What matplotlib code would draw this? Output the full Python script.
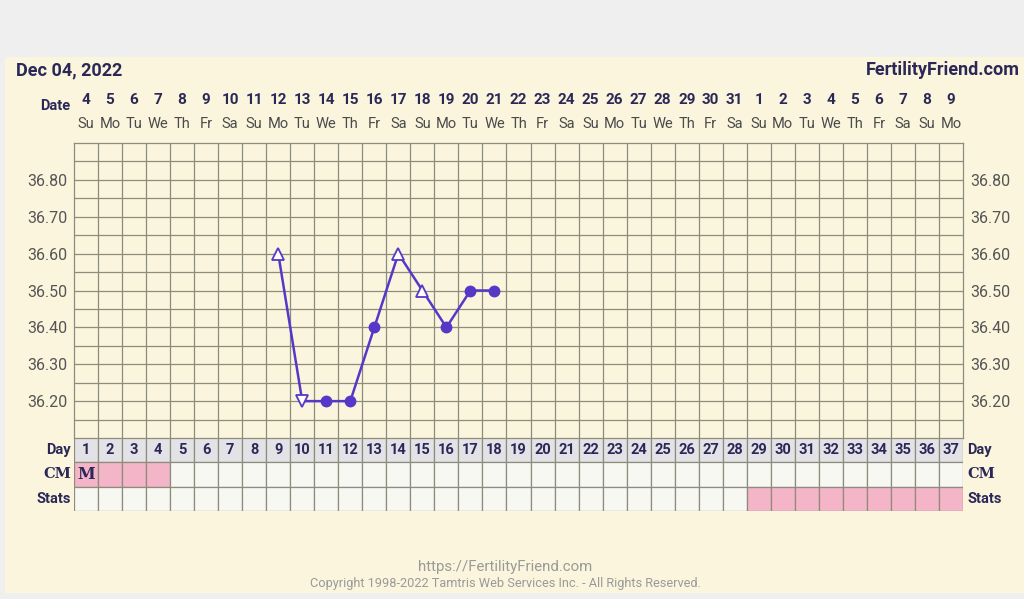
import numpy as np
import matplotlib.pyplot as plt
from matplotlib.patches import Rectangle

plt.rcParams['font.family'] = ['Roboto', 'DejaVu Sans']

# cycle days and calendar
days = list(range(1, 38))
dates = ['4', '5', '6', '7', '8', '9', '10', '11', '12', '13', '14', '15', '16',
         '17', '18', '19', '20', '21', '22', '23', '24', '25', '26', '27', '28',
         '29', '30', '31', '1', '2', '3', '4', '5', '6', '7', '8', '9']
weekdays = ['Su', 'Mo', 'Tu', 'We', 'Th', 'Fr', 'Sa'] * 5 + ['Su', 'Mo']

# temperatures
temp_days = [9, 10, 11, 12, 13, 14, 15, 16, 17, 18]
temps = [36.60, 36.20, 36.20, 36.20, 36.40, 36.60, 36.50, 36.40, 36.50, 36.50]
temp_marks = ['^', 'v', 'o', 'o', 'o', '^', '^', 'o', 'o', 'o']
temp_ticks = [36.20, 36.30, 36.40, 36.50, 36.60, 36.70, 36.80]

# rows under the chart
cm_days = [1, 2, 3, 4]
cm_text = {1: 'M'}
stats_days = [29, 30, 31, 32, 33, 34, 35, 36, 37]

navy = '#2b2858'
cream = '#faf5dc'
gridc = '#8e8c7c'
purple = '#5538c8'
pink = '#f3b5c7'

W, H = 1024, 599
fig = plt.figure(figsize=(W / 100, H / 100), dpi=100, facecolor='#efefef')
fig.patches.append(Rectangle((5 / W, 6 / H), 1, 1 - 63 / H, transform=fig.transFigure,
                             facecolor=cream, edgecolor='none', zorder=-10))

x0, x1 = 74, 963
ax = fig.add_axes([x0 / W, 1 - 438 / H, (x1 - x0) / W, (438 - 143) / H])
ax.set_facecolor(cream)
ax.set_xlim(0.5, 37.5)
ax.set_ylim(36.10, 36.90)
for gx in np.arange(1.5, 37.5, 1):
    ax.axvline(gx, color=gridc, lw=0.9, zorder=1)
for gy in np.arange(36.15, 36.89, 0.05):
    ax.axhline(gy, color=gridc, lw=0.9, zorder=1)
ax.set_xticks([])
ax.set_yticks(temp_ticks)
ax.set_yticklabels(['%.2f' % t for t in temp_ticks])
ax.tick_params(axis='y', length=0, labelleft=True, labelright=True,
               labelsize=11.5, labelcolor='#555555', pad=5)
for s in ax.spines.values():
    s.set_color(gridc)
    s.set_linewidth(0.9)

ax.plot(temp_days, temps, color=purple, lw=1.8, zorder=3)
for d, t, m in zip(temp_days, temps, temp_marks):
    if m == 'o':
        ax.plot(d, t, 'o', ms=7.5, color=purple, zorder=4)
    else:
        ax.plot(d, t, m, ms=9, mfc='white', mec=purple, mew=1.3, zorder=4)

for d, dt, wd in zip(days, dates, weekdays):
    ax.annotate(dt, (d, 1), xycoords=('data', 'axes fraction'), xytext=(0, 31),
                textcoords='offset points', ha='center', va='center',
                fontsize=11, fontweight='bold', color=navy)
    ax.annotate(wd, (d, 1), xycoords=('data', 'axes fraction'), xytext=(0, 13.5),
                textcoords='offset points', ha='center', va='center',
                fontsize=10.5, color='#4a4a4a')

# Day / CM / Stats table
tb = fig.add_axes([x0 / W, 1 - 511 / H, (x1 - x0) / W, (511 - 438) / H])
tb.set_xlim(0.5, 37.5)
tb.set_ylim(3, 0)
day_col = ['#e3e3e7'] * len(days)
cm_col = [pink if d in cm_days else '#f8f8f3' for d in days]
st_col = [pink if d in stats_days else '#f8f8f3' for d in days]
tb.bar(days, 1, bottom=0, width=1, color=day_col, edgecolor=gridc, lw=0.9)
tb.bar(days, 1, bottom=1, width=1, color=cm_col, edgecolor=gridc, lw=0.9)
tb.bar(days, 1, bottom=2, width=1, color=st_col, edgecolor=gridc, lw=0.9)
for d in days:
    tb.text(d, 0.5, str(d), ha='center', va='center', fontsize=10.5,
            fontweight='bold', color=navy)
for d, s in cm_text.items():
    tb.text(d, 1.5, s, ha='center', va='center', fontsize=11.5, fontweight='bold',
            color=navy, family='DejaVu Serif')
tb.axis('off')

row_names = ['Day', 'CM', 'Stats']
row_fonts = ['Roboto', 'DejaVu Serif', 'Roboto']
for i, (nm, fam) in enumerate(zip(row_names, row_fonts)):
    tb.annotate(nm, (0, i + 0.5), xycoords=('axes fraction', 'data'), xytext=(-2, 0),
                textcoords='offset points', ha='right', va='center', fontsize=10.5,
                fontweight='bold', color=navy, family=fam)
    tb.annotate(nm, (1, i + 0.5), xycoords=('axes fraction', 'data'), xytext=(3, 0),
                textcoords='offset points', ha='left', va='center', fontsize=10.5,
                fontweight='bold', color=navy, family=fam)

fig.text(16 / W, 1 - 70 / H, 'Dec 04, 2022', ha='left', va='center', fontsize=13,
         fontweight='bold', color=navy)
fig.text(1020 / W, 1 - 70 / H, 'FertilityFriend.com', ha='right', va='center',
         fontsize=13, fontweight='bold', color=navy)
fig.text(70 / W, 1 - 106 / H, 'Date', ha='right', va='center', fontsize=10.5,
         fontweight='bold', color=navy)
fig.text(505 / W, 1 - 567 / H, 'https://FertilityFriend.com', ha='center', va='center',
         fontsize=10.8, color='#9a9a9a')
fig.text(505 / W, 1 - 584 / H,
         'Copyright 1998-2022 Tamtris Web Services Inc. - All Rights Reserved.',
         ha='center', va='center', fontsize=9.2, color='#9a9a9a')

fig.savefig('out.png', dpi=100, facecolor=fig.get_facecolor())
